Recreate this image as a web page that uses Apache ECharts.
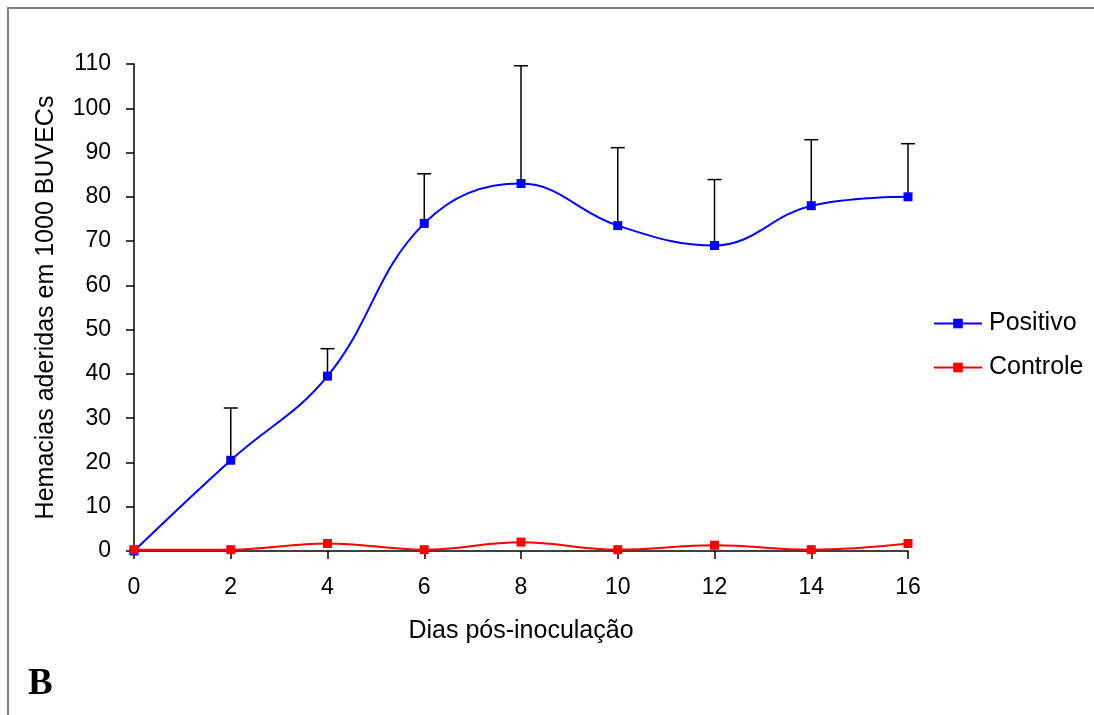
<!DOCTYPE html>
<html>
<head>
<meta charset="utf-8">
<script src="https://cdn.jsdelivr.net/npm/echarts@6/dist/echarts.min.js"></script>
<style>
html,body{margin:0;padding:0;background:#fff;}
#chart{width:1094px;height:715px;}
</style>
</head>
<body>
<div id="chart"></div>
<script>
var days = [0, 2, 4, 6, 8, 10, 12, 14, 16];
var positivo = [0, 20.5, 39.5, 74, 83, 73.5, 69, 78, 80];
var positivoErrTop = [0, 32.3, 45.7, 85.2, 109.6, 91.1, 83.9, 92.9, 92];
var controle = [0.3, 0.3, 1.7, 0.3, 2.0, 0.3, 1.3, 0.3, 1.7];
var xTicks = [0, 2, 4, 6, 8, 10, 12, 14, 16];
var yTicks = [0, 10, 20, 30, 40, 50, 60, 70, 80, 90, 100, 110];

var chart = echarts.init(document.getElementById('chart'));
var font = 'Liberation Sans, Arial, sans-serif';

var posData = days.map(function (d, i) { return [d, positivo[i]]; });
var ctrlData = days.map(function (d, i) { return [d, controle[i]]; });
var errData = days.map(function (d, i) { return [d, positivo[i], positivoErrTop[i]]; })
  .filter(function (e) { return e[2] > e[1]; });

chart.setOption({
  animation: false,
  backgroundColor: '#ffffff',
  graphic: [
    { type: 'rect', shape: { x: 8, y: 8, width: 1200, height: 800 },
      style: { fill: 'none', stroke: '#808080', lineWidth: 2 }, z: 100 },
    { type: 'text', left: 28, top: 666,
      style: { text: 'B', font: 'bold 37px "Liberation Serif", "Times New Roman", serif', fill: '#000' } }
  ],
  grid: { left: 134, top: 64, right: 186, bottom: 164 },
  legend: {
    orient: 'vertical',
    left: 933,
    top: 311,
    padding: 0,
    itemWidth: 48,
    itemHeight: 12,
    itemGap: 19,
    textStyle: { fontFamily: font, fontSize: 25, color: '#000', padding: [0, 0, 0, 2] },
    data: ['Positivo', 'Controle']
  },
  xAxis: {
    type: 'value',
    min: 0, max: 16, interval: 2,
    name: 'Dias pós-inoculação',
    nameLocation: 'middle',
    nameGap: 68,
    nameTextStyle: { fontFamily: font, fontSize: 25, color: '#000' },
    axisLine: { onZero: false, lineStyle: { color: '#000', width: 1.5 } },
    axisTick: { show: true, inside: false, length: 8, lineStyle: { color: '#000', width: 1.5 } },
    axisLabel: { fontFamily: font, fontSize: 23, color: '#000', margin: 25,
      formatter: function (v) { return xTicks.indexOf(v) >= 0 ? String(v) : ''; } },
    splitLine: { show: false }
  },
  yAxis: {
    type: 'value',
    min: 0, max: 110, interval: 10,
    name: 'Hemacias aderidas em 1000 BUVECs',
    nameLocation: 'middle',
    nameGap: 75,
    nameTextStyle: { fontFamily: font, fontSize: 25, color: '#000' },
    axisLine: { show: true, lineStyle: { color: '#000', width: 1.5 } },
    axisTick: { show: true, inside: false, length: 8, lineStyle: { color: '#000', width: 1.5 } },
    axisLabel: { fontFamily: font, fontSize: 23, color: '#000', margin: 23,
      formatter: function (v) { return yTicks.indexOf(v) >= 0 ? String(v) : ''; } },
    splitLine: { show: false }
  },
  series: [
    {
      name: 'Positivo',
      type: 'line',
      data: posData,
      smooth: 0.4,
      symbol: 'rect',
      symbolSize: 9,
      lineStyle: { color: '#0000ff', width: 2 },
      itemStyle: { color: '#0000ff' },
      z: 3
    },
    {
      name: 'Controle',
      type: 'line',
      data: ctrlData,
      smooth: 0.4,
      symbol: 'rect',
      symbolSize: 9,
      lineStyle: { color: '#ff0000', width: 2 },
      itemStyle: { color: '#ff0000' },
      z: 3
    },
    {
      name: 'err',
      type: 'custom',
      data: errData,
      z: 2,
      renderItem: function (params, api) {
        var x = api.value(0);
        var base = api.coord([x, api.value(1)]);
        var top = api.coord([x, api.value(2)]);
        var half = 7;
        return {
          type: 'group',
          children: [
            { type: 'line', shape: { x1: base[0], y1: base[1], x2: top[0], y2: top[1] },
              style: { stroke: '#000', lineWidth: 1.5 } },
            { type: 'line', shape: { x1: top[0] - half, y1: top[1], x2: top[0] + half, y2: top[1] },
              style: { stroke: '#000', lineWidth: 1.5 } }
          ]
        };
      }
    }
  ]
});
</script>
</body>
</html>
